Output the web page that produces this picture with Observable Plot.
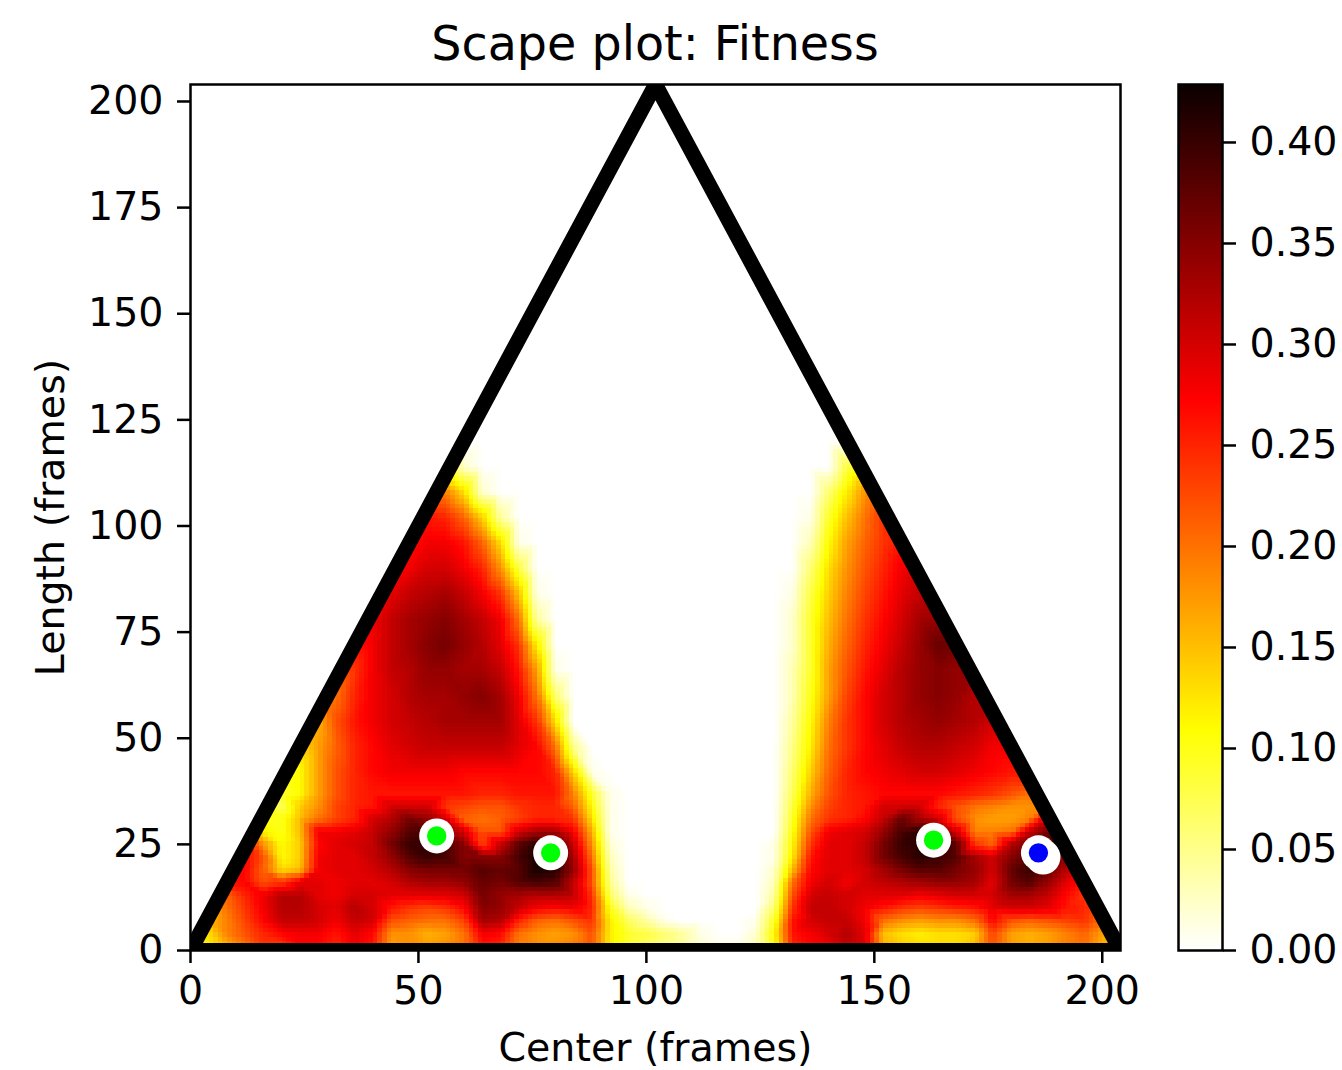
<!DOCTYPE html>
<html>
<head>
<meta charset="utf-8">
<script src="https://cdn.jsdelivr.net/npm/d3@7"></script>
<script src="https://cdn.jsdelivr.net/npm/@observablehq/plot@0.6"></script>
<style>
html,body{margin:0;padding:0;background:#fff;overflow:hidden}
#title{height:70px;width:1150px;box-sizing:border-box;padding-left:190px;padding-right:30px;text-align:center;font:47.6px "DejaVu Sans";line-height:88px;color:#000;white-space:nowrap}
#row{display:flex}
svg{display:block}
</style>
</head>
<body>
<div id="title">Scape plot: Fitness</div>
<div id="row"></div>
<script>
// Fitness estimates (in hundredths); centers every 4 frames, 0..204
const centers = d3.range(0, 208, 4);
const lengths = [1,4,7,10,13,16,19,22,25,28,31,34,37,42,48,54,60,66,72,78,84,90,96,102,108,114,120];
const row1  = [10,12,16,20,24,24,27,27,25,28,26,17,18,17,18,20,26,25,19,18,18,19,22,12,9,7,5,4,2,1,1,3,10,25,27,28,31,29,16,14,13,13,13,15,22,17,16,17,19,20,16,14];
const row4  = [11,13,19,22,25,27,28,28,26,29,27,18,18,16,17,20,28,27,20,18,17,18,22,12,9,8,6,4,1,0,0,2,11,26,28,30,32,29,15,13,12,13,13,14,23,17,16,17,19,21,17,15];
const row7  = [14,15,19,23,27,31,31,30,28,31,30,22,21,20,20,23,33,32,25,21,20,22,24,12,7,4,1,0,0,0,0,1,9,26,30,31,31,28,20,18,17,18,18,20,27,22,21,22,23,24,20,18];
const row10 = [15,15,20,24,28,32,32,30,29,32,30,26,24,23,24,27,35,34,31,28,27,28,25,10,3,1,0,0,0,0,0,0,6,24,31,31,30,28,26,24,23,24,25,26,29,30,30,29,26,25,22,20];
const row13 = [17,19,21,25,28,32,32,29,28,30,30,29,29,29,29,30,36,34,33,32,32,31,24,7,1,0,0,0,0,0,0,0,4,22,30,31,30,29,29,29,28,29,30,30,30,33,33,31,27,24,22,20];
const row16 = [24,26,26,27,22,24,29,29,28,29,29,30,32,33,33,34,37,36,38,39,38,31,22,5,0,0,0,0,0,0,0,0,3,20,28,30,28,30,31,32,33,34,34,33,29,36,38,34,29,26,23,20];
const row19 = [25,26,27,27,21,13,15,28,29,29,30,32,35,36,36,36,38,37,38,42,41,34,22,4,0,0,0,0,0,0,0,0,2,15,27,29,29,30,33,36,38,38,36,34,30,37,40,37,32,28,25,25];
const row22 = [27,27,27,27,22,11,14,28,29,29,31,34,38,40,39,35,35,35,39,42,40,33,20,3,0,0,0,0,0,0,0,0,1,12,26,29,29,31,36,39,41,40,38,33,30,35,38,40,34,28,25,25];
const row25 = [27,27,27,27,18,11,14,27,29,30,31,36,40,40,39,35,23,31,38,41,39,31,18,2,0,0,0,0,0,0,0,0,1,11,24,29,29,31,36,40,41,41,38,24,21,32,36,40,36,28,25,25];
const row28 = [12,12,12,12,12,10,15,28,28,29,31,34,38,39,34,30,22,22,30,33,33,28,16,1,0,0,0,0,0,0,0,0,0,10,22,28,29,30,34,39,41,36,30,19,19,20,31,36,36,30,25,25];
const row31 = [10,10,10,10,10,10,15,20,23,25,30,32,36,34,30,21,20,21,23,25,25,24,13,1,0,0,0,0,0,0,0,0,0,9,20,24,25,27,31,37,33,30,22,18,17,17,19,30,30,25,25,25];
const row34 = [10,10,10,10,10,7,14,18,23,25,26,30,30,30,24,23,22,22,24,25,25,21,11,1,0,0,0,0,0,0,0,0,0,8,18,23,25,26,30,30,30,25,22,20,19,18,18,19,18,18,18,18];
const row37 = [9,9,9,9,9,9,11,17,22,25,26,26,26,26,26,26,25,25,26,26,26,19,9,1,0,0,0,0,0,0,0,0,0,7,16,22,25,26,27,27,27,27,26,25,24,22,20,20,20,20,20,20];
const row42 = [10,10,10,10,10,10,11,17,22,25,27,28,28,28,28,27,27,27,27,27,25,14,1,0,0,0,0,0,0,0,0,0,0,6,14,21,25,27,28,29,30,30,29,28,27,26,26,26,26,26,26,26];
const row48 = [12,12,12,12,12,12,13,17,21,25,27,29,30,31,31,31,31,31,29,27,20,5,0,0,0,0,0,0,0,0,0,0,0,5,12,20,24,27,29,31,32,32,31,30,28,28,28,28,28,28,28,28];
const row54 = [14,14,14,14,14,14,14,16,22,26,28,30,31,32,33,33,33,33,29,24,13,0,0,0,0,0,0,0,0,0,0,0,0,4,11,19,24,27,30,32,33,34,33,32,30,30,30,30,30,30,30,30];
const row60 = [18,18,18,18,18,18,18,18,20,25,28,30,32,33,33,34,35,33,28,20,6,0,0,0,0,0,0,0,0,0,0,0,0,3,10,17,23,27,30,32,34,35,34,32,32,32,32,32,32,32,32,32];
const row66 = [22,22,22,22,22,22,22,22,22,24,28,31,32,34,34,33,33,31,26,17,1,0,0,0,0,0,0,0,0,0,0,0,0,3,9,17,22,26,29,32,34,35,34,34,34,34,34,34,34,34,34,34];
const row72 = [26,26,26,26,26,26,26,26,26,26,28,31,33,35,36,34,32,29,24,12,0,0,0,0,0,0,0,0,0,0,0,0,0,2,9,16,21,25,28,31,34,37,36,36,36,36,36,36,36,36,36,36];
const row78 = [28,28,28,28,28,28,28,28,28,28,28,31,33,34,35,33,31,28,20,4,0,0,0,0,0,0,0,0,0,0,0,0,0,2,9,15,20,24,27,30,33,34,34,34,34,34,34,34,34,34,34,34];
const row84 = [28,28,28,28,28,28,28,28,28,28,28,29,31,32,33,31,28,24,15,1,0,0,0,0,0,0,0,0,0,0,0,0,0,1,8,14,19,23,26,29,31,31,31,31,31,31,31,31,31,31,31,31];
const row90 = [27,27,27,27,27,27,27,27,27,27,27,27,28,30,30,28,25,18,8,0,0,0,0,0,0,0,0,0,0,0,0,0,0,0,6,13,18,22,25,28,28,28,28,28,28,28,28,28,28,28,28,28];
const row96 = [26,26,26,26,26,26,26,26,26,26,26,26,26,28,28,26,21,13,1,0,0,0,0,0,0,0,0,0,0,0,0,0,0,0,3,11,17,21,24,26,26,26,26,26,26,26,26,26,26,26,26,26];
const row102 = [26,26,26,26,26,26,26,26,26,26,26,26,26,26,25,21,14,4,0,0,0,0,0,0,0,0,0,0,0,0,0,0,0,0,1,9,15,20,24,24,24,24,24,24,24,24,24,24,24,24,24,24];
const row108 = [19,19,19,19,19,19,19,19,19,19,19,19,19,19,19,13,2,0,0,0,0,0,0,0,0,0,0,0,0,0,0,0,0,0,0,6,12,18,18,18,18,18,18,18,18,18,18,18,18,18,18,18];
const row114 = [10,10,10,10,10,10,10,10,10,10,10,10,10,10,10,2,0,0,0,0,0,0,0,0,0,0,0,0,0,0,0,0,0,0,0,0,8,10,10,10,10,10,10,10,10,10,10,10,10,10,10,10];
const row120 = centers.map(() => 0);
const rows = [row1,row4,row7,row10,row13,row16,row19,row22,row25,row28,row31,row34,row37,row42,row48,row54,row60,row66,row72,row78,row84,row90,row96,row102,row108,row114,row120];

const peakCenter = [54, 79, 163];
const peakLength = [27, 23, 26];
const seedCenter = [186];
const seedLength = [23];
const haloCenter = [187];
const haloLength = [22];
const leftEdge = [[0, 0], [102, 204]];
const rightEdge = [[102, 204], [204, 0]];
const triangle = [[0, 0], [102, 204], [204, 0], [0, 0]];
const xTicks = [0, 50, 100, 150, 200];
const yTicks = [0, 25, 50, 75, 100, 125, 150, 175, 200];
const barTicks = [0, 0.05, 0.10, 0.15, 0.20, 0.25, 0.30, 0.35, 0.40];

const vmax = 0.4287;
const color = {
  type: "linear",
  domain: [0, 0.1089, 0.2722, vmax],
  range: ["#ffffff", "#ffff00", "#ff0000", "#0a0000"],
  clamp: true
};

const samples = [];
rows.forEach((r, j) => r.forEach((v, i) => {
  const L = lengths[j], c = centers[i];
  if (c >= L / 2 - 4 && c <= 204 - L / 2 + 4) samples.push({c, L, v: v / 100});
}));

const font = {fontFamily: "DejaVu Sans", fontSize: "39.5px", background: "transparent", color: "#000"};
const pts = (xs, ys) => xs.map((x, i) => ({x, y: ys[i]}));

const main = Plot.plot({
  width: 1150, height: 1000,
  marginLeft: 190, marginRight: 30, marginTop: 14, marginBottom: 120,
  style: font,
  x: {domain: [0, 204]},
  y: {domain: [0, 204]},
  color,
  marks: [
    Plot.raster(samples, {x: "c", y: "L", fill: "v", interpolate: "barycentric", pixelSize: 4.56, imageRendering: "pixelated"}),
    Plot.areaY(leftEdge, {x: d => d[0], y1: d => d[1], y2: 204, fill: "#fff"}),
    Plot.areaY(rightEdge, {x: d => d[0], y1: d => d[1], y2: 204, fill: "#fff"}),
    Plot.line(triangle, {x: d => d[0], y: d => d[1], stroke: "#000", strokeWidth: 15, clip: true, strokeLinejoin: "miter"}),
    Plot.dot(pts(haloCenter, haloLength), {x: "x", y: "y", r: 17.5, fill: "#fff"}),
    Plot.dot(pts(seedCenter, seedLength), {x: "x", y: "y", r: 17.5, fill: "#fff"}),
    Plot.dot(pts(seedCenter, seedLength), {x: "x", y: "y", r: 9.7, fill: "#0000ff"}),
    Plot.dot(pts(peakCenter, peakLength), {x: "x", y: "y", r: 17.5, fill: "#fff"}),
    Plot.dot(pts(peakCenter, peakLength), {x: "x", y: "y", r: 9.7, fill: "#00ff00"}),
    Plot.frame({stroke: "#000", strokeWidth: 2.5}),
    Plot.axisX({ticks: xTicks, tickSize: 13, tickPadding: 12, strokeWidth: 2.5, stroke: "#000", fill: "#000", tickFormat: d => d, label: "Center (frames)", labelAnchor: "center", labelArrow: "none", labelOffset: 110}),
    Plot.axisY({ticks: yTicks, tickSize: 13, tickPadding: 14, strokeWidth: 2.5, stroke: "#000", fill: "#000", tickFormat: d => d, label: "Length (frames)", labelAnchor: "center", labelArrow: "none", labelOffset: 155})
  ]
});

const bar = Plot.plot({
  width: 192, height: 1000,
  marginLeft: 28, marginRight: 120, marginTop: 14, marginBottom: 120,
  style: font,
  x: {domain: [0, 1], axis: null},
  y: {domain: [0, vmax]},
  color,
  marks: [
    Plot.raster({x1: 0, x2: 1, y1: 0, y2: vmax, width: 1, height: 866, fill: (x, y) => y, imageRendering: "pixelated"}),
    Plot.frame({stroke: "#000", strokeWidth: 2.5}),
    Plot.axisY({anchor: "right", ticks: barTicks, tickSize: 13, tickPadding: 14, strokeWidth: 2.5, stroke: "#000", fill: "#000", tickFormat: d3.format(".2f"), label: null})
  ]
});

document.getElementById("row").append(main, bar);
</script>
</body>
</html>
